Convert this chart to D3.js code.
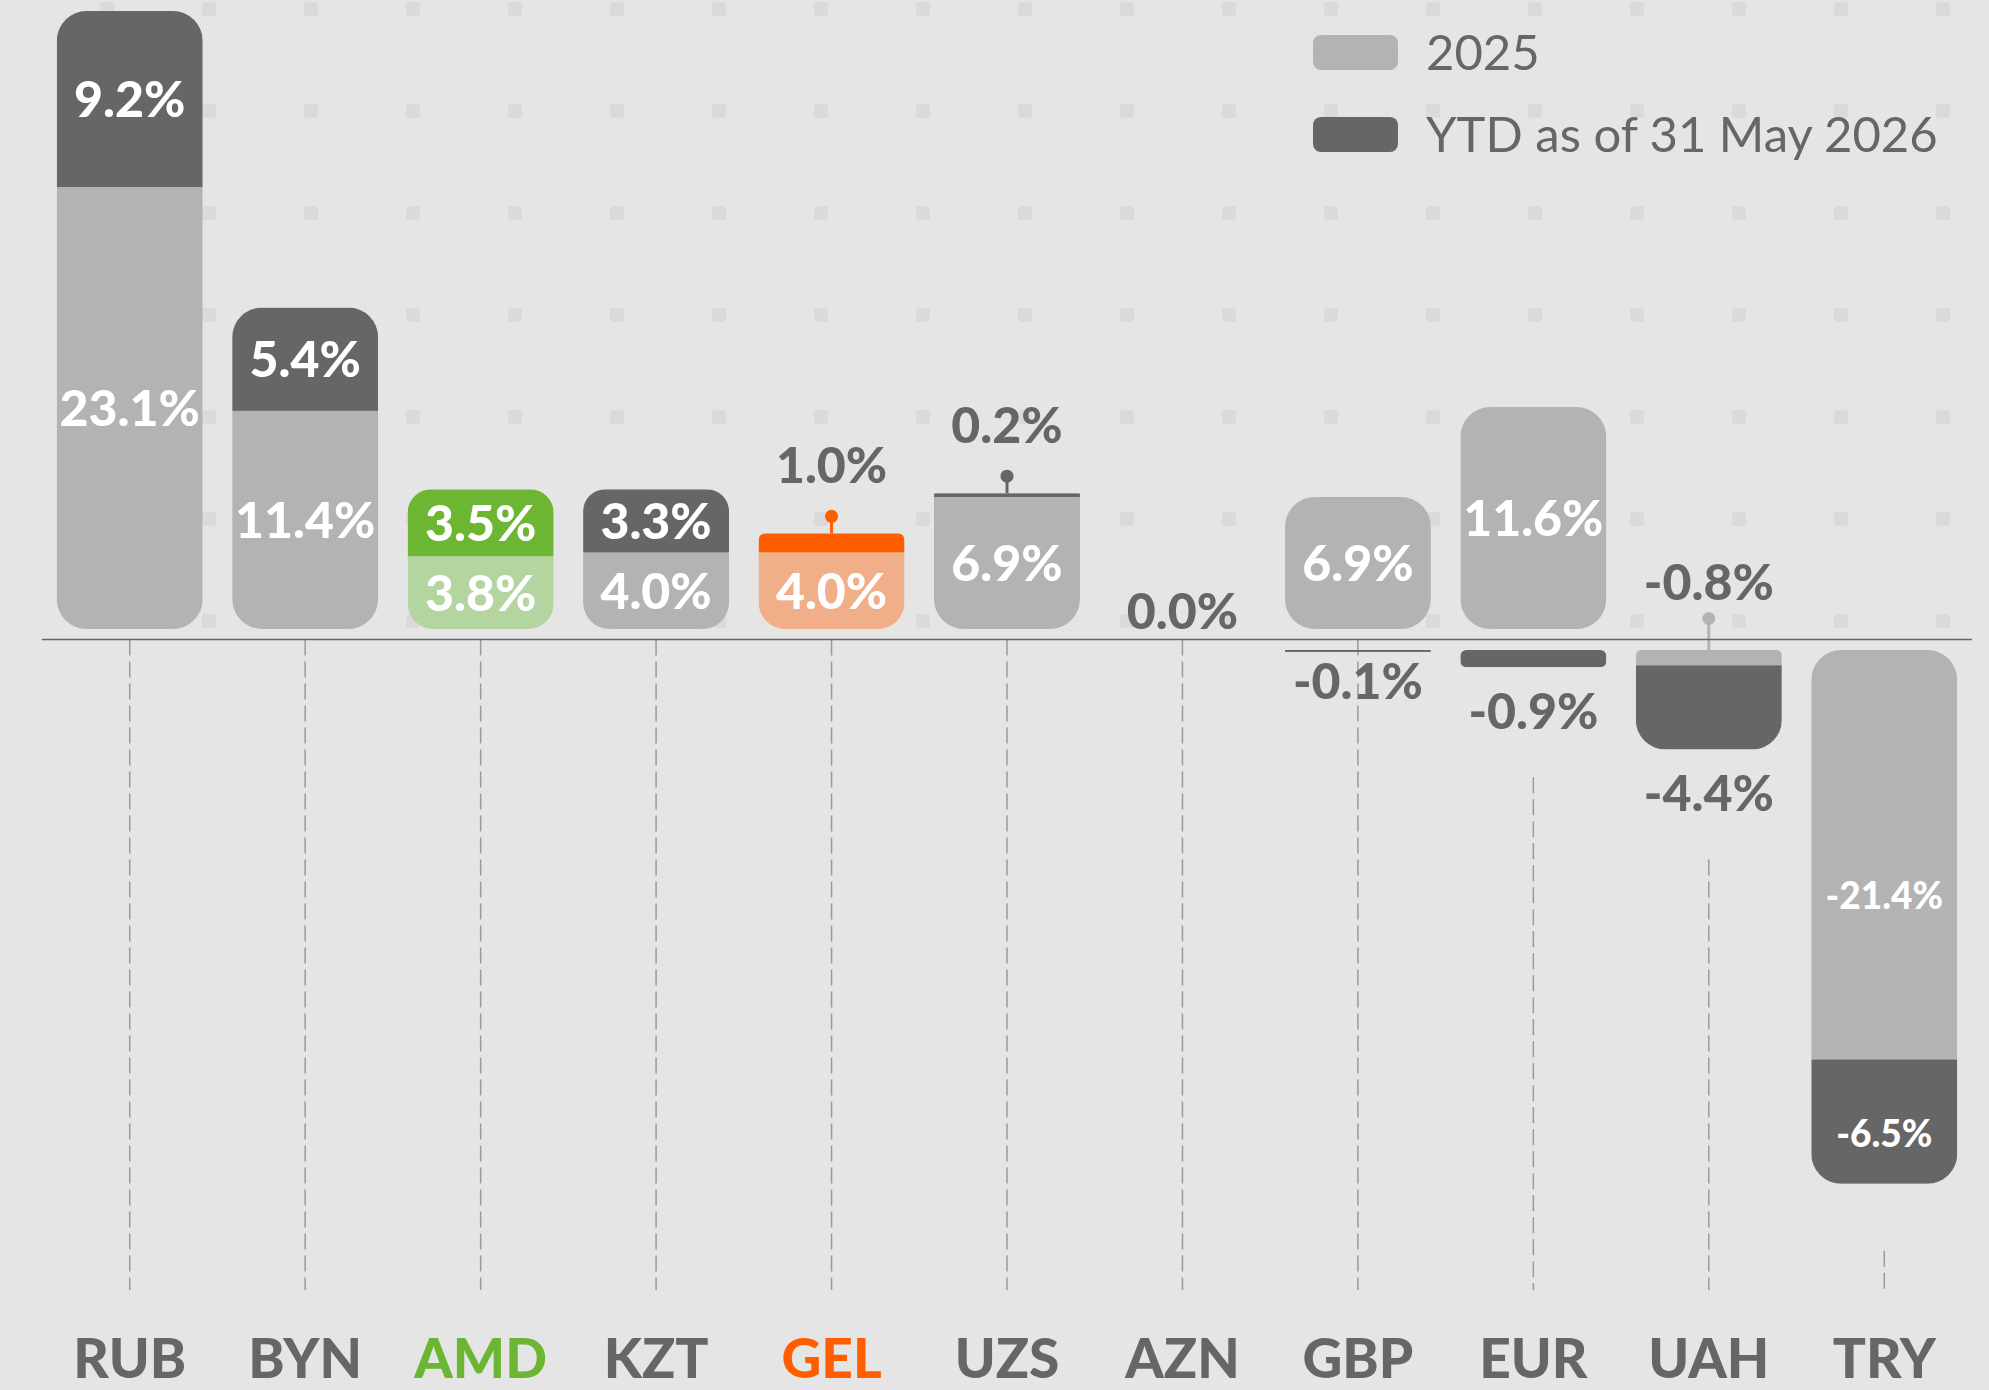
<!DOCTYPE html>
<html>
<head>
<meta charset="utf-8">
<script src="https://cdn.jsdelivr.net/npm/d3@7"></script>
<style>
  html, body { margin: 0; padding: 0; background: #e5e5e5; }
  svg { display: block; font-family: Lato, "Liberation Sans", sans-serif; }
</style>
</head>
<body>
<div id="chart"></div>
<script>
// data
const currencies = ["RUB", "BYN", "AMD", "KZT", "GEL", "UZS", "AZN", "GBP", "EUR", "UAH", "TRY"];
const values2025 = [23.1, 11.4, 3.8, 4.0, 4.0, 6.9, 0.0, 6.9, 11.6, -0.8, -21.4];
const valuesYtd = [9.2, 5.4, 3.5, 3.3, 1.0, 0.2, 0.0, -0.1, -0.9, -4.4, -6.5];
const seriesNames = ["2025", "YTD as of 31 May 2026"];

// colours: [2025, YTD]
const baseColors = ["#b3b3b3", "#666666"];
const specialColors = {
  AMD: ["#b4d4a0", "#6cb633"],
  GEL: ["#f0ae89", "#ff5e00"],
};
const textGray = "#666666";

const W = 1989, H = 1390;
const zeroY = 639.5, gap = 10.5, topY = 11, axisEnd = 1290;

const svg = d3.select("#chart").append("svg").attr("width", W).attr("height", H);
svg.append("rect").attr("width", W).attr("height", H).attr("fill", "#e5e5e5");

// dotted background grid
const dots = [];
d3.range(107, W, 102).forEach((cx) => d3.range(9, zeroY, 102).forEach((cy) => dots.push([cx, cy])));
svg.append("g")
  .selectAll("rect")
  .data(dots)
  .join("rect")
  .attr("x", (d) => d[0] - 7)
  .attr("y", (d) => d[1] - 7)
  .attr("width", 14)
  .attr("height", 14)
  .attr("rx", 3)
  .attr("fill", "#dadada");

const x = d3.scaleBand()
  .domain(currencies)
  .range([42, 1972])
  .paddingInner(0.168)
  .paddingOuter(0.084);

const rows = currencies.map((c, i) => ({ c, vals: [values2025[i], valuesYtd[i]] }));
const maxPos = d3.max(rows, (r) => d3.sum(r.vals.filter((v) => v > 0)));
const h = d3.scaleLinear().domain([0, maxPos]).range([0, zeroY - gap - topY]);

const colorOf = (c, s) => (specialColors[c] || baseColors)[s];
const fmt = (v) => v.toFixed(1) + "%";

function roundedPath(x0, y0, w, ht, rt, rb) {
  return `M${x0},${y0 + rt} A${rt},${rt} 0 0 1 ${x0 + rt},${y0} H${x0 + w - rt} ` +
    `A${rt},${rt} 0 0 1 ${x0 + w},${y0 + rt} V${y0 + ht - rb} ` +
    `A${rb},${rb} 0 0 1 ${x0 + w - rb},${y0 + ht} H${x0 + rb} ` +
    `A${rb},${rb} 0 0 1 ${x0},${y0 + ht - rb} Z`;
}

function buildStack(row, sign) {
  let acc = 0;
  const segs = [];
  row.vals.forEach((v, s) => {
    if (v * sign <= 0) return;
    const a = acc, b = acc + Math.abs(v);
    acc = b;
    segs.push({ s, v, a, b });
  });
  return segs;
}

// y position of a stacked length on either side of zero
const yAt = (len, sign) => (sign > 0 ? zeroY - gap - h(len) : zeroY + gap + h(len));

const gGuides = svg.append("g");
const gBars = svg.append("g");
const gLabels = svg.append("g").attr("font-weight", 900);
const defs = svg.append("defs");

rows.forEach((row, i) => {
  const x0 = x(row.c), bw = x.bandwidth(), cx = x0 + bw / 2;
  let guideStart = zeroY;

  [1, -1].forEach((sign) => {
    const segs = buildStack(row, sign);
    if (!segs.length) return;
    const total = segs[segs.length - 1].b;
    const inner = segs[0], outer = segs[segs.length - 1];
    const rOuter = Math.min(30, h(outer.b - outer.a) * 0.35);
    const rInner = Math.min(30, h(inner.b - inner.a) * 0.35);
    const yTop = sign > 0 ? yAt(total, 1) : zeroY + gap;
    const ht = Math.max(h(total), 1.5);
    const clipId = `clip-${row.c}-${sign > 0 ? "p" : "n"}`;

    defs.append("clipPath").attr("id", clipId)
      .append("path")
      .attr("d", roundedPath(x0, yTop, bw, ht,
        sign > 0 ? rOuter : rInner, sign > 0 ? rInner : rOuter));

    gBars.append("g").attr("clip-path", `url(#${clipId})`)
      .selectAll("rect")
      .data(segs)
      .join("rect")
      .attr("x", x0)
      .attr("width", bw)
      .attr("y", (d) => Math.min(yAt(d.a, sign), yAt(d.b, sign)))
      .attr("height", (d) => Math.max(Math.abs(yAt(d.b, sign) - yAt(d.a, sign)), 1.5))
      .attr("fill", (d) => colorOf(row.c, d.s));

    const bigNeg = sign < 0 && total >= 0.5;
    if (bigNeg) guideStart = Math.max(guideStart, yTop + ht + 67);

    segs.forEach((d, k) => {
      const absV = Math.abs(d.v);
      const inside = sign > 0 ? absV >= 3 : absV >= 5;
      const yA = yAt(d.a, sign), yB = yAt(d.b, sign);
      if (inside) {
        // negative labels sit a little below the middle of their segment
        const pos = sign > 0 ? 0.5 : 0.6;
        gLabels.append("text")
          .attr("x", cx)
          .attr("y", yA + (yB - yA) * pos)
          .attr("dy", "0.36em")
          .attr("text-anchor", "middle")
          .attr("font-size", sign > 0 ? 50 : 37)
          .attr("fill", "#fff")
          .text(fmt(d.v));
        return;
      }
      const isOuter = k === segs.length - 1;
      if (sign < 0 && isOuter) {
        // label hangs under the bar
        const segH = Math.abs(yB - yA);
        const yb = yB + 45 + Math.min(17, segH);
        gLabels.append("text")
          .attr("x", cx)
          .attr("y", yb)
          .attr("text-anchor", "middle")
          .attr("font-size", 50)
          .attr("fill", textGray)
          .text(fmt(d.v));
        if (bigNeg) guideStart = Math.max(guideStart, yb + 48);
        return;
      }
      // lollipop pointing up to the label
      const stemFrom = sign > 0 ? yB : zeroY + gap;
      const dotY = sign > 0 ? yB - 17 : zeroY - 21;
      const labelY = sign > 0 ? dotY - 33 : dotY - 19;
      const col = colorOf(row.c, d.s);
      gBars.append("line")
        .attr("x1", cx).attr("x2", cx)
        .attr("y1", stemFrom).attr("y2", dotY)
        .attr("stroke", col)
        .attr("stroke-width", 3);
      gBars.append("circle")
        .attr("cx", cx).attr("cy", dotY).attr("r", 6.5)
        .attr("fill", col);
      gLabels.append("text")
        .attr("x", cx)
        .attr("y", labelY)
        .attr("text-anchor", "middle")
        .attr("font-size", 50)
        .attr("fill", textGray)
        .text(fmt(d.v));
    });
  });

  if (row.vals.every((v) => v === 0)) {
    gLabels.append("text")
      .attr("x", cx)
      .attr("y", zeroY - gap)
      .attr("text-anchor", "middle")
      .attr("font-size", 50)
      .attr("fill", textGray)
      .text(fmt(0));
  }

  // dashed guide down to the currency name
  gGuides.append("line")
    .attr("x1", cx).attr("x2", cx)
    .attr("y1", guideStart).attr("y2", axisEnd)
    .attr("stroke", "#9a9a9a")
    .attr("stroke-width", 1.5)
    .attr("stroke-dasharray", "16,6");
});

// zero line
svg.append("line")
  .attr("x1", 42).attr("x2", 1972)
  .attr("y1", zeroY).attr("y2", zeroY)
  .attr("stroke", "#666")
  .attr("stroke-width", 1.5);

// currency names
svg.append("g")
  .selectAll("text")
  .data(currencies)
  .join("text")
  .attr("x", (d) => x(d) + x.bandwidth() / 2)
  .attr("y", 1378)
  .attr("text-anchor", "middle")
  .attr("font-size", 55)
  .attr("font-weight", 900)
  .attr("fill", (d) => (specialColors[d] ? specialColors[d][1] : textGray))
  .text((d) => d);

// legend
const legend = svg.append("g")
  .selectAll("g")
  .data(seriesNames)
  .join("g")
  .attr("transform", (d, i) => `translate(1313, ${35 + i * 82})`);
legend.append("rect")
  .attr("width", 85)
  .attr("height", 35)
  .attr("rx", 8)
  .attr("fill", (d, i) => baseColors[i]);
legend.append("text")
  .attr("x", 113)
  .attr("y", 35)
  .attr("font-size", 49)
  .attr("font-weight", 400)
  .attr("fill", textGray)
  .text((d) => d);
</script>
</body>
</html>
